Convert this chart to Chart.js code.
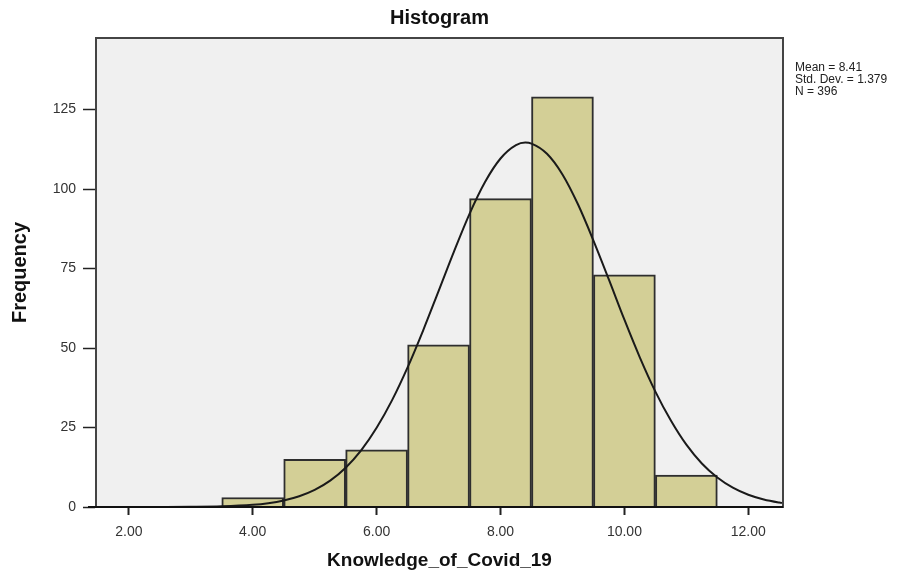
<!DOCTYPE html>
<html>
<head>
<meta charset="utf-8">
<title>Histogram</title>
<script src="https://cdn.jsdelivr.net/npm/chart.js@4/dist/chart.umd.min.js"></script>
<style>
  html, body { margin: 0; padding: 0; background: #ffffff; }
  #chart { display: block; }
</style>
</head>
<body>
<canvas id="chart" width="907" height="572"></canvas>
<script>
// bins of width 1, centres at whole numbers
const binCenters = [4, 5, 6, 7, 8, 9, 10, 11];
const frequencies = [3, 15, 18, 51, 97, 129, 73, 10];

// normal curve
const curveX = [1.47, 2, 2.5, 3, 3.5, 4, 4.25, 4.5, 4.75, 5, 5.25, 5.5, 5.75, 6, 6.25, 6.5, 6.75, 7, 7.25, 7.5, 7.75, 8, 8.25, 8.4, 8.5, 8.75, 9, 9.25, 9.5, 9.75, 10, 10.25, 10.5, 10.75, 11, 11.25, 11.5, 11.75, 12, 12.25, 12.5, 12.56];
const curveY = [0, 0, 0.01, 0.05, 0.2, 0.69, 1.21, 2.06, 3.38, 5.38, 8.29, 12.36, 17.8, 24.9, 33.6, 43.9, 55.5, 67.9, 80.4, 92.2, 102.2, 109.6, 113.8, 114.6, 114.3, 111.1, 104.6, 95.2, 83.8, 71.5, 58.9, 47.0, 36.3, 27.2, 19.6, 13.7, 9.3, 6.1, 3.87, 2.37, 1.41, 1.24];

const xTicks = [2, 4, 6, 8, 10, 12];
const yTicks = [0, 25, 50, 75, 100, 125];
const statsLines = ["Mean = 8.41", "Std. Dev. = 1.379", "N = 396"];

const FONT = "'Liberation Sans', Arial, Helvetica, sans-serif";

// grey plot background and dark frame, like SPSS
const plotFrame = {
  id: "plotFrame",
  beforeDatasetsDraw(chart) {
    const { ctx, chartArea: a } = chart;
    ctx.save();
    ctx.fillStyle = "#f0f0f0";
    ctx.fillRect(a.left, a.top, a.right - a.left, a.bottom - a.top);
    ctx.restore();
  },
  afterDatasetsDraw(chart) {
    const { ctx, chartArea: a } = chart;
    ctx.save();
    ctx.strokeStyle = "#444";
    ctx.lineWidth = 2;
    ctx.strokeRect(a.left, a.top, a.right - a.left, a.bottom - a.top);
    ctx.beginPath();
    ctx.strokeStyle = "#111";
    ctx.moveTo(a.left - 8, a.bottom);
    ctx.lineTo(a.right, a.bottom);
    ctx.stroke();
    ctx.restore();
  },
};

// Mean / Std. Dev. / N text to the right of the plot
const statsText = {
  id: "statsText",
  afterDraw(chart) {
    const { ctx, chartArea: a } = chart;
    ctx.save();
    ctx.fillStyle = "#222";
    ctx.font = "12px " + FONT;
    ctx.textBaseline = "middle";
    ctx.textAlign = "left";
    statsLines.forEach((line, i) => {
      ctx.fillText(line, a.right + 12, a.top + 30 + i * 11.8);
    });
    ctx.restore();
  },
};

new Chart(document.getElementById("chart"), {
  type: "bar",
  data: {
    datasets: [
      {
        type: "line",
        data: curveX.map((x, i) => ({ x: x, y: curveY[i] })),
        borderColor: "#1a1a1a",
        borderWidth: 2,
        pointRadius: 0,
        fill: false,
        cubicInterpolationMode: "monotone",
        order: 0,
      },
      {
        type: "bar",
        data: binCenters.map((x, i) => ({ x: x, y: frequencies[i] })),
        backgroundColor: "#d3cf96",
        borderColor: "#2e2e2e",
        borderWidth: 2,
        barPercentage: 1,
        categoryPercentage: 1,
        order: 1,
      },
    ],
  },
  options: {
    responsive: false,
    animation: false,
    layout: { padding: { left: 0, top: 0, right: 124, bottom: 0 } },
    plugins: {
      legend: { display: false },
      tooltip: { enabled: false },
      title: {
        display: true,
        text: "Histogram",
        fullSize: false,
        color: "#111",
        font: { family: FONT, size: 20, weight: "bold" },
        padding: { top: 6, bottom: 8 },
      },
    },
    scales: {
      x: {
        type: "linear",
        min: 1.47,
        max: 12.56,
        offset: false,
        afterBuildTicks: (scale) => {
          scale.ticks = xTicks.map((v) => ({ value: v }));
        },
        afterFit: (scale) => {
          scale.height = 65;
        },
        ticks: {
          color: "#333",
          font: { family: FONT, size: 14 },
          padding: 9,
          maxRotation: 0,
          callback: (v) => Number(v).toFixed(2),
        },
        grid: {
          offset: false,
          drawOnChartArea: false,
          tickLength: 8,
          tickColor: "#222",
          tickWidth: 2,
        },
        border: { display: true, color: "#111", width: 2 },
        title: {
          display: true,
          text: "Knowledge_of_Covid_19",
          color: "#111",
          font: { family: FONT, size: 19, weight: "bold" },
          padding: 0,
        },
      },
      y: {
        type: "linear",
        min: 0,
        max: 147.5,
        afterBuildTicks: (scale) => {
          scale.ticks = yTicks.map((v) => ({ value: v }));
        },
        afterFit: (scale) => {
          scale.width = 96;
        },
        ticks: {
          color: "#333",
          font: { family: FONT, size: 14 },
          padding: 7,
        },
        grid: {
          drawOnChartArea: false,
          tickLength: 13,
          tickColor: "#222",
          tickWidth: 1.5,
        },
        border: { display: true, color: "#444", width: 2 },
        title: {
          display: true,
          text: "Frequency",
          color: "#111",
          font: { family: FONT, size: 20, weight: "bold" },
          padding: { top: 8, bottom: 0 },
        },
      },
    },
  },
  plugins: [plotFrame, statsText],
});
</script>
</body>
</html>
